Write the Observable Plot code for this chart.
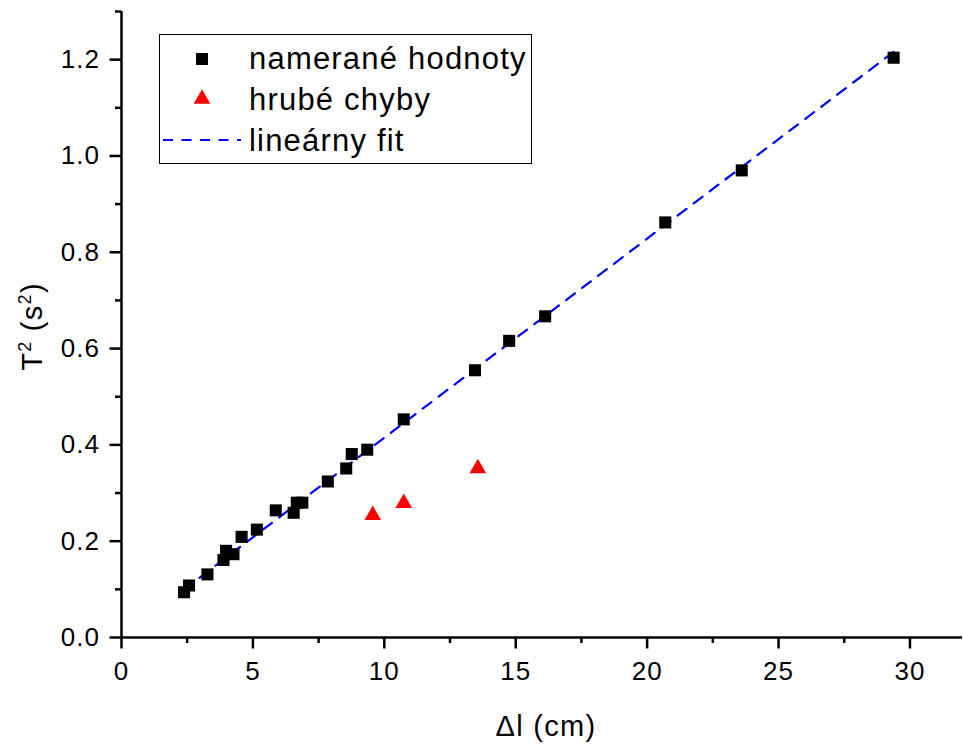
<!DOCTYPE html>
<html>
<head>
<meta charset="utf-8">
<script src="https://cdn.jsdelivr.net/npm/d3@7"></script>
<script src="https://cdn.jsdelivr.net/npm/@observablehq/plot@0.6"></script>
<style>
html, body { margin: 0; padding: 0; background: #fff; overflow: hidden; }
#wrap { position: relative; width: 963px; height: 744px; }
#legend { position: absolute; left: 0; top: 0; pointer-events: none; }
</style>
</head>
<body>
<div id="wrap"></div>
<script>
// ---- data ----
const measuredX = [2.38, 2.57, 3.27, 3.88, 3.98, 4.26, 4.57, 5.15, 5.87, 6.55, 6.67, 6.88, 7.85, 8.55, 8.76, 9.35, 10.74, 13.45, 14.75, 16.12, 20.69, 23.6, 29.38];
const measuredY = [0.094, 0.108, 0.131, 0.161, 0.180, 0.173, 0.209, 0.224, 0.264, 0.259, 0.280, 0.280, 0.324, 0.351, 0.381, 0.390, 0.453, 0.555, 0.616, 0.667, 0.862, 0.970, 1.204];
const errorX = [9.56, 10.74, 13.56];
const errorY = [0.254, 0.279, 0.351];
const fitX = [2.36, 29.38];
const fitY = [0.099, 1.216];
const xMajorTicks = [0, 5, 10, 15, 20, 25, 30];
const xMinorTicks = [2.5, 7.5, 12.5, 17.5, 22.5, 27.5];
const yMajorTicks = [0, 0.2, 0.4, 0.6, 0.8, 1.0, 1.2];
const yMinorTicks = [0.1, 0.3, 0.5, 0.7, 0.9, 1.1, 1.3];
const seriesNames = ["namerané hodnoty", "hrubé chyby", "lineárny fit"];
const xTitle = "Δl (cm)";
const yTitle = "T2 (s2)";
// y title parts: [text, isSuperscript]
const yTitleParts = [["T", false], ["2", true], [" (s", false], ["2", true], [")", false]];

const FONT = '"Liberation Sans", Arial, Helvetica, sans-serif';
const measured = measuredX.map((x, i) => ({x, y: measuredY[i]}));
const errors = errorX.map((x, i) => ({x, y: errorY[i]}));
const fit = fitX.map((x, i) => ({x, y: fitY[i]}));

const SQ_R = 6.8, TRI_R = 6.2;
const AX_W = 2.5;
const TITLE_FS = 29;

const plot = Plot.plot({
  width: 963,
  height: 744,
  marginLeft: 121,
  marginRight: 1,
  marginTop: 11,
  marginBottom: 107,
  style: {fontFamily: FONT, fontSize: "26px", color: "#000", background: "#fff", overflow: "visible"},
  x: {domain: [0, 32]},
  y: {domain: [0, 1.3]},
  marks: [
    Plot.axisX({ticks: xMinorTicks, tickSize: 6, tickFormat: () => "", strokeWidth: AX_W, label: null}),
    Plot.axisX({ticks: xMajorTicks, tickSize: 11.5, tickPadding: 12.5, tickFormat: d => String(d), strokeWidth: AX_W, fontSize: 26, label: null}),
    Plot.axisY({ticks: yMinorTicks, tickSize: 6, tickFormat: () => "", strokeWidth: AX_W, label: null}),
    Plot.axisY({ticks: yMajorTicks, tickSize: 11.5, tickPadding: 10, tickFormat: d3.format(".1f"), strokeWidth: AX_W, fontSize: 26, label: null}),
    Plot.ruleY([0], {strokeWidth: AX_W}),
    Plot.ruleX([0], {strokeWidth: AX_W}),
    Plot.line(fit, {x: "x", y: "y", stroke: "#0000ff", strokeWidth: 2.2, strokeDasharray: "11,9"}),
    Plot.dot(measured, {x: "x", y: "y", symbol: "square", r: SQ_R, fill: "#000"}),
    Plot.dot(errors, {x: "x", y: "y", symbol: "triangle", r: TRI_R, fill: "#ff0000"}),
    Plot.text([xTitle], {text: d => d, frameAnchor: "bottom", dx: 4, dy: 98, lineAnchor: "bottom", textAnchor: "middle", fontSize: TITLE_FS}),
    Plot.text([yTitle], {text: d => d, frameAnchor: "left", dx: -80, dy: 2, rotate: -90, lineAnchor: "bottom", textAnchor: "middle", fontSize: TITLE_FS})
  ]
});

const wrap = document.getElementById("wrap");
wrap.appendChild(plot);

// wider letter spacing to match the reference's broad lettering
d3.select(plot).selectAll('g[aria-label$="tick label"] text').style("letter-spacing", "1px");
d3.select(plot).selectAll('g[aria-label="text"] text')
  .style("letter-spacing", "1.3px")
  .each(function() {
    const t = d3.select(this);
    if (t.text() === yTitle) {
      t.text("");
      let raised = false;
      yTitleParts.forEach(([s, sup]) => {
        const ts = t.append("tspan").text(s);
        if (sup && !raised) { ts.attr("dy", -11).attr("font-size", 18); raised = true; }
        else if (!sup && raised) { ts.attr("dy", 11).attr("font-size", TITLE_FS); raised = false; }
      });
    }
  });

// ---- legend (inside the plot area, top-left) ----
const L = {x: 159.5, y: 34.5, w: 372, h: 129, symX: 202, rowY: [59, 99, 140], textX: 249, base: [68.5, 110, 151]};
const leg = d3.select(wrap).append("svg")
  .attr("id", "legend")
  .attr("width", 963).attr("height", 744)
  .style("font-family", FONT);
leg.append("rect").attr("x", L.x).attr("y", L.y).attr("width", L.w).attr("height", L.h)
  .attr("fill", "#fff").attr("stroke", "#000").attr("stroke-width", 1);
leg.append("path")
  .attr("d", d3.symbol(d3.symbolSquare, Math.PI * SQ_R * SQ_R)())
  .attr("transform", `translate(${L.symX},${L.rowY[0]})`).attr("fill", "#000");
leg.append("path")
  .attr("d", d3.symbol(d3.symbolTriangle, Math.PI * TRI_R * TRI_R)())
  .attr("transform", `translate(${L.symX},${L.rowY[1]})`).attr("fill", "#ff0000");
leg.append("line").attr("x1", 163).attr("x2", 241).attr("y1", L.rowY[2]).attr("y2", L.rowY[2])
  .attr("stroke", "#0000ff").attr("stroke-width", 2.2).attr("stroke-dasharray", "10,8.5");
seriesNames.forEach((name, i) => {
  leg.append("text").attr("x", L.textX).attr("y", L.base[i])
    .attr("font-size", 31).style("letter-spacing", "1.2px").attr("fill", "#000").text(name);
});
</script>
</body>
</html>
